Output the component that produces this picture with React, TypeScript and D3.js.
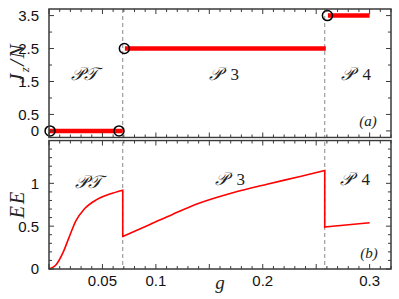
import React from 'react'
import * as d3 from 'd3'

// phase boundaries (g)
const boundaries = [0.069, 0.258]

// top panel: Jz/N per phase
const jzSegments = [
  { g0: 0, g1: 0.069, jz: 0 },
  { g0: 0.071, g1: 0.259, jz: 2.5 },
  { g0: 0.261, g1: 0.3, jz: 3.5 },
]
const circleG = [0.001, 0.0655, 0.0705, 0.2605]
const circleJz = [0, 0, 2.5, 3.5]

// bottom panel: EE
const ptG = [0, 0.006, 0.0134, 0.0185, 0.025, 0.033, 0.0446, 0.057, 0.069]
const ptEE = [0, 0.04, 0.2, 0.36, 0.56, 0.7, 0.81, 0.875, 0.92]
const p3G = [0.069, 0.0945, 0.116, 0.141, 0.172, 0.204, 0.235, 0.258]
const p3EE = [0.38, 0.52, 0.64, 0.77, 0.89, 0.99, 1.08, 1.15]
const p4G = [0.258, 0.3]
const p4EE = [0.49, 0.54]

const xTickLabels = [0.05, 0.1, 0.2, 0.3]
const jzTickLabels = [0, 0.5, 1.5, 2.5, 3.5]
const eeTickLabels = [0, 0.5, 1]

const W = 399
const H = 299
const left = 49
const right = 391
const topA = 9
const botA = 137.5
const topB = 140.5
const botB = 269

const frame = '#3a3a3a'

export default function App() {
  const x = d3.scaleLinear().domain([0, 0.32]).range([left, right])
  const yA = d3.scaleLinear().domain([-0.2, 3.7]).range([botA, topA])
  const yB = d3.scaleLinear().domain([0, 1.5]).range([botB, topB])

  const eeLine = (gs: number[], vs: number[]) =>
    d3.line<number>()
      .x((_, i) => x(gs[i]))
      .y(d => yB(d))
      .curve(d3.curveMonotoneX)(vs) as string

  // full EE path including the jumps
  const eePath =
    eeLine(ptG, ptEE) +
    'L' + x(p3G[0]) + ',' + yB(p3EE[0]) +
    eeLine(p3G, p3EE).replace(/^M/, 'L') +
    'L' + x(p4G[0]) + ',' + yB(p4EE[0]) +
    eeLine(p4G, p4EE).replace(/^M/, 'L')

  const xMinor = d3.range(0, 0.321, 0.01)
  const xMajor = d3.range(0, 0.321, 0.05)

  const panelTicks = (yScale: d3.ScaleLinear<number, number>, top: number, bot: number, yMinor: number[], yMajor: number[]) => (
    <g stroke={frame} strokeWidth={1}>
      {xMinor.map(t => {
        const major = xMajor.some(m => Math.abs(m - t) < 1e-6)
        const l = major ? 5 : 3
        return (
          <g key={'x' + t}>
            <line x1={x(t)} x2={x(t)} y1={bot} y2={bot - l} />
            <line x1={x(t)} x2={x(t)} y1={top} y2={top + l} />
          </g>
        )
      })}
      {yMinor.map(t => {
        const major = yMajor.some(m => Math.abs(m - t) < 1e-6)
        const l = major ? 5 : 3
        return (
          <g key={'y' + t}>
            <line x1={left} x2={left + l} y1={yScale(t)} y2={yScale(t)} />
            <line x1={right} x2={right - l} y1={yScale(t)} y2={yScale(t)} />
          </g>
        )
      })}
    </g>
  )

  const italic = { fontFamily: '"Liberation Serif", serif', fontStyle: 'italic' as const }
  const sans = { fontFamily: '"Liberation Sans", Arial, sans-serif', fontSize: 15 }

  const phase = (px: number, py: number, label: string) => (
    <text x={px} y={py} textAnchor="middle" style={{ whiteSpace: 'pre' }}>
      <tspan fontSize={18}>𝒫</tspan>
      {label === 'T'
        ? <tspan fontSize={18}>𝒯</tspan>
        : <tspan fontStyle="normal">{'  ' + label}</tspan>}
    </text>
  )

  return (
    <svg width={W} height={H} style={{ position: 'absolute', left: 0, top: 0, background: '#fff' }}>
      {/* dashed phase boundaries */}
      {boundaries.map(b => (
        <line key={b} x1={x(b)} x2={x(b)} y1={topA} y2={botB}
          stroke="#8a8a8a" strokeWidth={1} strokeDasharray="4,3" />
      ))}

      {/* top panel */}
      {jzSegments.map(s => (
        <line key={s.g0} x1={x(s.g0)} x2={x(s.g1)} y1={yA(s.jz)} y2={yA(s.jz)}
          stroke="#ff0000" strokeWidth={4.5} />
      ))}
      {circleG.map((g, i) => (
        <circle key={g} cx={x(g)} cy={yA(circleJz[i])} r={5}
          fill="none" stroke="#000" strokeWidth={1.5} />
      ))}
      {panelTicks(yA, topA, botA, d3.range(-0.0, 3.51, 0.5), jzTickLabels)}
      <rect x={left} y={topA} width={right - left} height={botA - topA}
        fill="none" stroke={frame} strokeWidth={1.5} />

      {/* bottom panel */}
      <path d={eePath} fill="none" stroke="#ff0000" strokeWidth={1.6} />
      {panelTicks(yB, topB, botB, d3.range(0, 1.51, 0.1), [0, 0.5, 1, 1.5])}
      <rect x={left} y={topB} width={right - left} height={botB - topB}
        fill="none" stroke={frame} strokeWidth={1.5} />
      <rect x={left} y={botA + 0.75} width={right - left} height={topB - botA - 1.5} fill="#e6e6e6" />

      {/* tick labels */}
      <g style={sans} fill="#111">
        {jzTickLabels.map(t => (
          <text key={'ja' + t} x={left - 10} y={yA(t)} dy="0.36em" textAnchor="end">{t}</text>
        ))}
        {eeTickLabels.map(t => (
          <text key={'eb' + t} x={left - 10} y={yB(t)} dy="0.36em" textAnchor="end">{t}</text>
        ))}
        {xTickLabels.map(t => (
          <text key={'xb' + t} x={x(t)} y={286} textAnchor="middle">{t}</text>
        ))}
      </g>

      {/* axis titles */}
      <text transform="translate(24,63) rotate(-90)" textAnchor="middle" style={italic} fontSize={21} fill="#222" letterSpacing={1.5}>
        J<tspan fontSize={13} dy={5}>z</tspan><tspan dy={-5}>/N</tspan>
      </text>
      <text transform="translate(24,204) rotate(-90)" textAnchor="middle" style={italic} fontSize={20} fill="#222" letterSpacing={2}>EE</text>
      <text x={220} y={289} textAnchor="middle" style={italic} fontSize={19} fill="#222">g</text>

      {/* phase labels */}
      <g style={italic} fontSize={17} fill="#222">
        {phase(84, 80, 'T')}
        {phase(224, 80, '3')}
        {phase(356, 80, '4')}
        {phase(88, 188, 'T')}
        {phase(230, 185, '3')}
        {phase(355, 185, '4')}
        <text x={368} y={126} fontSize={15} textAnchor="middle">(a)</text>
        <text x={369} y={258} fontSize={15} textAnchor="middle">(b)</text>
      </g>
    </svg>
  )
}
